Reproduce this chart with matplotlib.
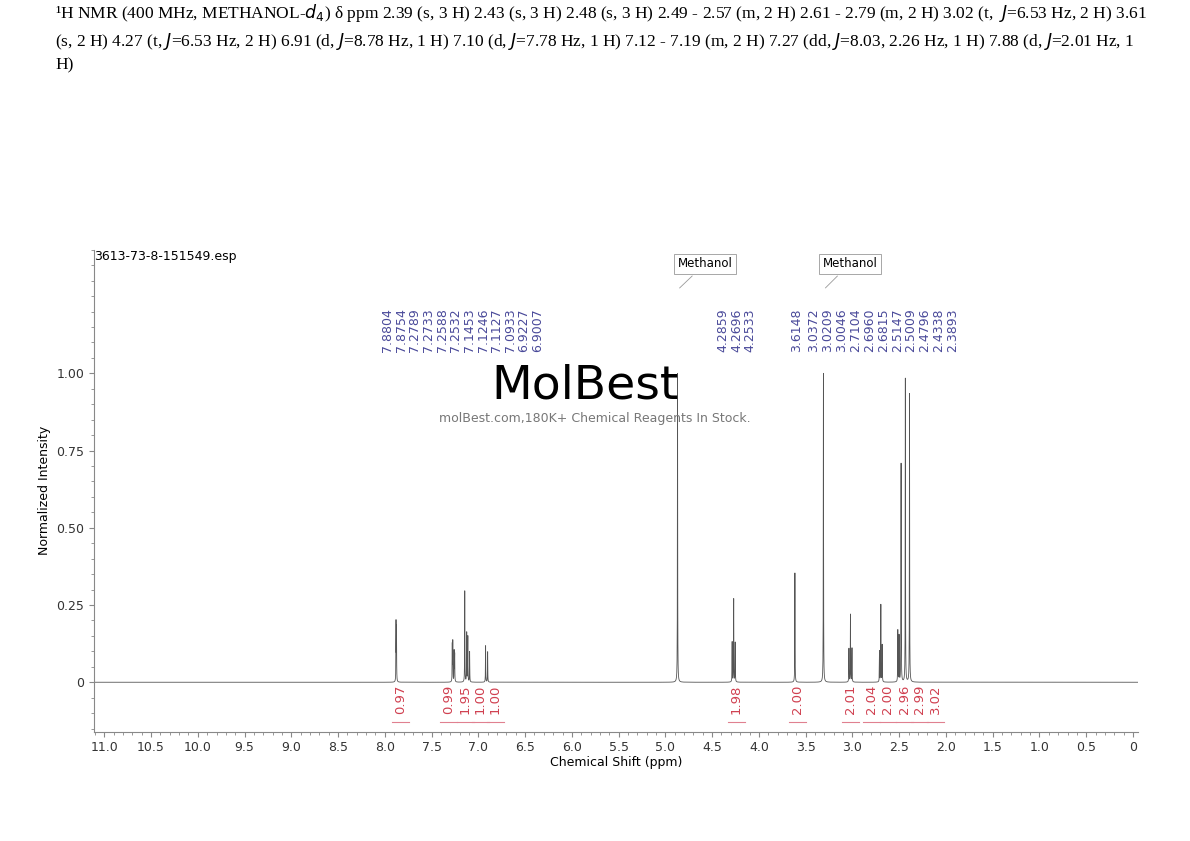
import numpy as np
import matplotlib
matplotlib.use("Agg")
import matplotlib.pyplot as plt
from matplotlib.ticker import MultipleLocator, FixedLocator

# ---- data ----
peak_ppm = [7.8804, 7.8754, 7.2789, 7.2733, 7.2588, 7.2532, 7.1453, 7.1246, 7.1127, 7.0933,
            6.9227, 6.9007, 4.87, 4.2859, 4.2696, 4.2533, 3.6148, 3.31, 3.0372, 3.0209, 3.0046,
            2.7104, 2.6960, 2.6815, 2.5147, 2.5009, 2.4796, 2.4338, 2.3893]
peak_int = [0.19, 0.17, 0.12, 0.13, 0.10, 0.09, 0.30, 0.16, 0.15, 0.10,
            0.12, 0.10, 1.00, 0.13, 0.27, 0.13, 0.36, 1.00, 0.11, 0.22, 0.11,
            0.10, 0.25, 0.12, 0.17, 0.15, 0.71, 1.00, 0.95]
label_texts = ["7.8804", "7.8754", "7.2789", "7.2733", "7.2588", "7.2532", "7.1453", "7.1246",
               "7.1127", "7.0933", "6.9227", "6.9007", "4.2859", "4.2696", "4.2533", "3.6148",
               "3.0372", "3.0209", "3.0046", "2.7104", "2.6960", "2.6815", "2.5147", "2.5009",
               "2.4796", "2.4338", "2.3893"]
integral_vals = ["0.97", "0.99", "1.95", "1.00", "1.00", "1.98", "2.00", "2.01", "2.04", "2.00",
                 "2.96", "2.99", "3.02"]
integral_ppm = [7.83, 7.32, 7.14, 6.98, 6.82, 4.24, 3.59, 3.02, 2.80, 2.62, 2.44, 2.28, 2.11]
x_ticks = [11.0, 10.5, 10.0, 9.5, 9.0, 8.5, 8.0, 7.5, 7.0, 6.5, 6.0, 5.5, 5.0, 4.5, 4.0,
           3.5, 3.0, 2.5, 2.0, 1.5, 1.0, 0.5, 0.0]
y_ticks = [0, 0.25, 0.5, 0.75, 1.0]

fig = plt.figure(figsize=(11.9, 8.41), dpi=100)
ax = fig.add_axes([0.079, 0.130, 0.877, 0.573])

x = np.arange(-0.06, 11.12, 0.0005)
y = np.zeros_like(x)
w = 0.0015
for p, h in zip(peak_ppm, peak_int):
    y += h * w**2 / ((x - p)**2 + w**2)
ax.plot(x, y, color="#555555", lw=0.6)
ax.set_xlim(11.11, -0.05)
ax.set_ylim(-0.16, 1.4)

ax.xaxis.set_major_locator(FixedLocator(x_ticks))
ax.set_xticklabels(["0" if t == 0 else f"{t:.1f}" for t in x_ticks], fontsize=9, color="#333333")
ax.xaxis.set_minor_locator(MultipleLocator(0.1))
ax.set_yticks(y_ticks)
ax.set_yticklabels(["0", "0.25", "0.50", "0.75", "1.00"], fontsize=9, color="#333333")
ax.yaxis.set_minor_locator(MultipleLocator(0.05))
ax.tick_params(which="both", direction="out", color="#888888")
for s in ["top", "right"]:
    ax.spines[s].set_visible(False)
for s in ["left", "bottom"]:
    ax.spines[s].set_color("#888888")
ax.set_xlabel("Chemical Shift (ppm)", fontsize=9, labelpad=1)
ax.set_ylabel("Normalized Intensity", fontsize=9)

ax.text(0.0, 1.0, "3613-73-8-151549.esp", transform=ax.transAxes, fontsize=9, va="top", ha="left")

# peak labels (fanned)
px2ppm = lambda px: 11 - (px - 103) / 93.7
label_px = list(np.linspace(387, 537, 12)) + [723, 737, 750, 797] + list(np.linspace(814, 953, 11))
for t, lp in zip(label_texts, label_px):
    ax.text(px2ppm(lp), 1.07, t, rotation=90, ha="center", va="bottom", fontsize=9, color="#4a4a9a")

for p, lp in [(4.87, 705), (3.31, 850)]:
    ax.annotate("Methanol", xy=(p, 1.27), xytext=(px2ppm(lp), 1.355), fontsize=8.5, ha="center",
                va="center", bbox=dict(boxstyle="square,pad=0.3", fc="white", ec="#999999", lw=0.6),
                arrowprops=dict(arrowstyle="-", color="#999999", lw=0.6))

for v, p in zip(integral_vals, integral_ppm):
    ax.text(p, -0.055, v, rotation=90, ha="center", va="center", fontsize=9.5, color="#d04050")
    ax.plot([p + 0.09, p - 0.09], [-0.13, -0.13], color="#e08090", lw=0.8)

# watermark
ax.text(px2ppm(585), 0.96, "MolBest", fontsize=34, ha="center", va="center", color="black",
        family="DejaVu Sans Condensed" if False else "DejaVu Sans")
ax.text(px2ppm(594), 0.855, "molBest.com,180K+ Chemical Reagents In Stock.", fontsize=9,
        ha="center", va="center", color="#777777")

header = ("¹H NMR (400 MHz, METHANOL-$d_4$) δ ppm 2.39 (s, 3 H) 2.43 (s, 3 H) 2.48 (s, 3 H) 2.49 - 2.57 (m, 2 H) 2.61 - 2.79 (m, 2 H) 3.02 (t,  $J$=6.53 Hz, 2 H) 3.61\n"
          "(s, 2 H) 4.27 (t, $J$=6.53 Hz, 2 H) 6.91 (d, $J$=8.78 Hz, 1 H) 7.10 (d, $J$=7.78 Hz, 1 H) 7.12 - 7.19 (m, 2 H) 7.27 (dd, $J$=8.03, 2.26 Hz, 1 H) 7.88 (d, $J$=2.01 Hz, 1\nH)")
fig.text(55 / 1190, 1 - 2 / 841, header, fontsize=12.5, family="Liberation Serif", va="top", ha="left",
         linespacing=1.45)

fig.savefig("out.png", dpi=100)
